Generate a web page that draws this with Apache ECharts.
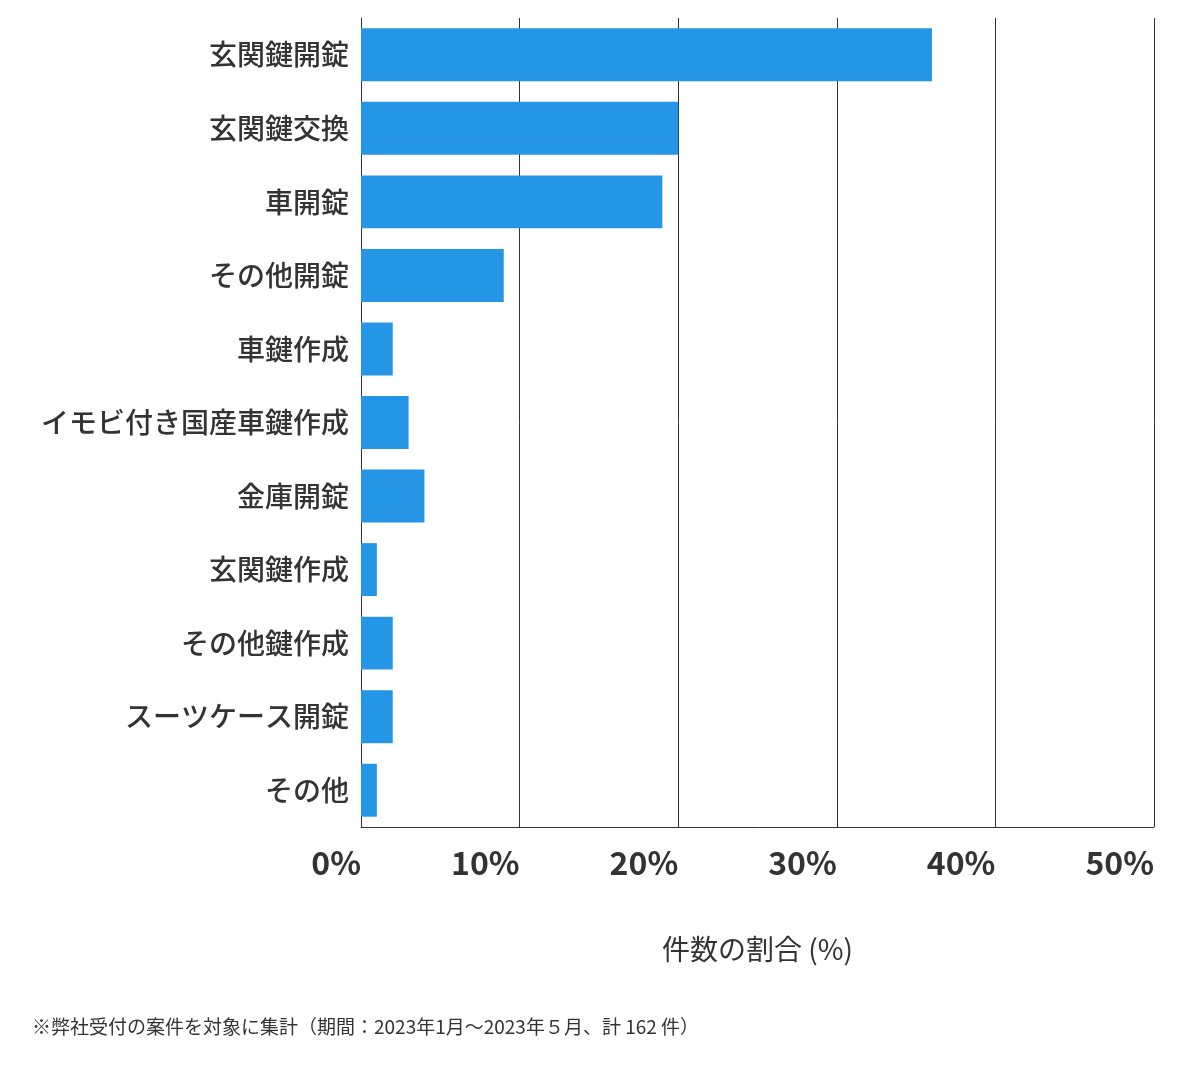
<!DOCTYPE html>
<html><head><meta charset="utf-8">
<script src="https://cdn.jsdelivr.net/npm/echarts@6/dist/echarts.min.js"></script>
<style>html,body{margin:0;padding:0;background:#fff}#c{width:1200px;height:1069px}</style>
</head><body><div id="c"></div>
<script>
const categories = ['玄関鍵開錠','玄関鍵交換','車開錠','その他開錠','車鍵作成','イモビ付き国産車鍵作成','金庫開錠','玄関鍵作成','その他鍵作成','スーツケース開錠','その他'];
const values = [36.0, 20.0, 19.0, 9.0, 2.0, 3.0, 4.0, 1.0, 2.0, 2.0, 1.0];
const xTicks = [0, 10, 20, 30, 40, 50];
const chart = echarts.init(document.getElementById('c'));
const font = '"Noto Sans CJK JP", "Noto Sans", sans-serif';
chart.setOption({
  animation: false,
  textStyle: {fontFamily: font},
  grid: {left: 361, right: 46, top: 18, bottom: 242, containLabel: false},
  xAxis: {
    type: 'value', min: xTicks[0], max: xTicks[xTicks.length-1], interval: 10,
    axisLine: {show: true, lineStyle: {color: '#333', width: 1}},
    axisTick: {show: false},
    splitLine: {show: true, lineStyle: {color: '#333', width: 1}},
    axisLabel: {formatter: '{value}%', align: 'right', margin: 20, fontSize: 32, fontWeight: 'bold', color: '#333', fontFamily: font},
    name: '件数の割合 (%)', nameLocation: 'middle', nameGap: 108,
    nameTextStyle: {fontSize: 28, color: '#333', fontFamily: font, padding: [0, 0, 0, 0]}
  },
  yAxis: {
    type: 'category', data: categories, inverse: true,
    axisLine: {show: true, lineStyle: {color: '#333'}},
    axisTick: {show: false},
    axisLabel: {fontSize: 28, fontWeight: 500, color: '#333', margin: 12, fontFamily: font}
  },
  series: [{type: 'bar', data: values, barWidth: '72%', itemStyle: {color: '#2595e6'}}],
  graphic: [{type: 'text', left: 32, top: 1017, style: {text: '※弊社受付の案件を対象に集計（期間：2023年1月～2023年５月、計 162 件）', fontSize: 19, fill: '#333', fontFamily: font}}]
});
</script></body></html>
